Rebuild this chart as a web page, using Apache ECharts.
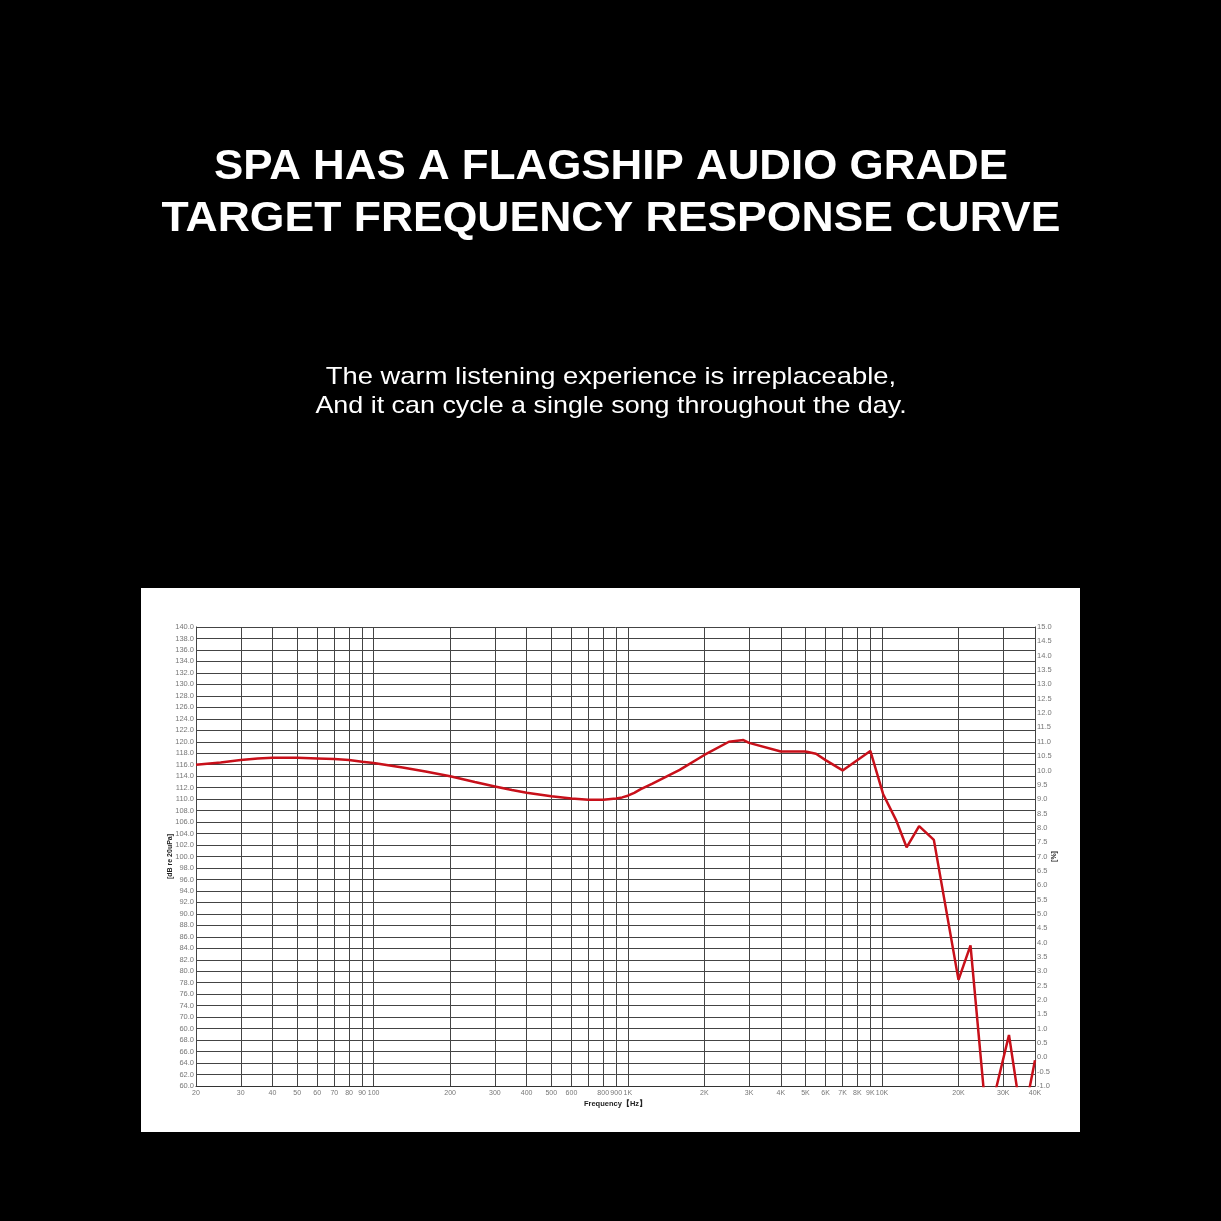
<!DOCTYPE html>
<html>
<head>
<meta charset="utf-8">
<script src="https://cdn.jsdelivr.net/npm/echarts@6/dist/echarts.min.js"></script>
<style>html,body{margin:0;padding:0;background:#000;}#c{width:1221px;height:1221px;}</style>
</head>
<body>
<div id="c"></div>
<script>
const titleLines = ["SPA HAS A FLAGSHIP AUDIO GRADE", "TARGET FREQUENCY RESPONSE CURVE"];
const subtitleLines = ["The warm listening experience is irreplaceable,", "And it can cycle a single song throughout the day."];

const freqs = [20, 25, 30, 35, 40, 50, 60, 70, 80, 90, 100, 130, 160, 200, 250, 300, 350, 400, 500, 600, 700, 800, 900, 950, 1000, 1060, 1120, 1250, 1600, 2000, 2500, 2850, 3000, 4000, 5000, 5500, 6000, 7000, 9000, 10100, 11400, 12500, 14000, 16000, 20000, 22300, 25900, 31600, 35700, 40000];
const spl = [116.0, 116.4, 116.8, 117.1, 117.2, 117.2, 117.1, 117.0, 116.8, 116.5, 116.3, 115.5, 114.8, 114.0, 113.0, 112.2, 111.6, 111.1, 110.5, 110.1, 109.9, 109.9, 110.1, 110.3, 110.6, 111.1, 111.7, 112.7, 115.1, 117.7, 120.0, 120.3, 119.8, 118.3, 118.3, 117.9, 116.8, 115.0, 118.4, 110.9, 106.2, 101.6, 105.3, 102.9, 78.5, 84.5, 53.0, 68.9, 53.3, 64.5];

const gridFreqs = [20, 30, 40, 50, 60, 70, 80, 90, 100, 200, 300, 400, 500, 600, 700, 800, 900, 1000, 2000, 3000, 4000, 5000, 6000, 7000, 8000, 9000, 10000, 20000, 30000, 40000];
const xLabelValues = [20, 30, 40, 50, 60, 70, 80, 90, 100, 200, 300, 400, 500, 600, 800, 900, 1000, 2000, 3000, 4000, 5000, 6000, 7000, 8000, 9000, 10000, 20000, 30000, 40000];
const xLabelTexts = ["20", "30", "40", "50", "60", "70", "80", "90", "100", "200", "300", "400", "500", "600", "800", "900", "1K", "2K", "3K", "4K", "5K", "6K", "7K", "8K", "9K", "10K", "20K", "30K", "40K"];
// left tick labels from bottom (60) to top (140), as printed in the picture
const leftTickLabels = ["60.0", "62.0", "64.0", "66.0", "68.0", "60.0", "70.0", "74.0", "76.0", "78.0", "80.0", "82.0", "84.0", "86.0", "88.0", "90.0", "92.0", "94.0", "96.0", "98.0", "100.0", "102.0", "104.0", "106.0", "108.0", "110.0", "112.0", "114.0", "116.0", "118.0", "120.0", "122.0", "124.0", "126.0", "128.0", "130.0", "132.0", "134.0", "136.0", "138.0", "140.0"];

const chart = echarts.init(document.getElementById('c'), null, {renderer: 'canvas'});
const labelFont = 'Liberation Sans, Arial, sans-serif';
const titleFont = 'bold 42px "Liberation Sans", Arial, sans-serif';
const subFont = '24px "Liberation Sans", Arial, sans-serif';
chart.setOption({
  backgroundColor: '#000',
  animation: false,
  graphic: [
    {type: 'rect', left: 141, top: 588, shape: {width: 939, height: 544}, style: {fill: '#fff'}, z: -10},
    {type: 'text', x: 611, y: 167, scaleX: 1.045, style: {text: titleLines[0], fill: '#fff', font: titleFont, textAlign: 'center', textVerticalAlign: 'middle'}},
    {type: 'text', x: 611, y: 219, scaleX: 1.06, style: {text: titleLines[1], fill: '#fff', font: titleFont, textAlign: 'center', textVerticalAlign: 'middle'}},
    {type: 'text', x: 611, y: 377, scaleX: 1.14, style: {text: subtitleLines[0], fill: '#fff', font: subFont, textAlign: 'center', textVerticalAlign: 'middle'}},
    {type: 'text', x: 611, y: 406, scaleX: 1.12, style: {text: subtitleLines[1], fill: '#fff', font: subFont, textAlign: 'center', textVerticalAlign: 'middle'}}
  ],
  grid: {left: 196, right: 186, top: 627, bottom: 135, containLabel: false},
  xAxis: {
    type: 'log', logBase: 10, min: 20, max: 40000,
    name: 'Frequency【Hz】', nameLocation: 'middle', nameGap: 14,
    nameTextStyle: {color: '#222', fontSize: 7.5, fontWeight: 'bold', fontFamily: labelFont},
    axisLine: {show: true, onZero: false, lineStyle: {color: '#333', width: 1}},
    axisTick: {show: false},
    splitLine: {show: false},
    axisLabel: {
      customValues: xLabelValues,
      color: '#777', fontSize: 7, fontFamily: labelFont, margin: 4,
      formatter: function (v) { const i = xLabelValues.indexOf(Math.round(v)); return i >= 0 ? xLabelTexts[i] : ''; }
    }
  },
  yAxis: [
    {
      type: 'value', min: 60, max: 140, interval: 2, position: 'left',
      name: '[dB re 20uPa]', nameLocation: 'middle', nameRotate: 90, nameGap: 22, nameMoveOverlap: false,
      nameTextStyle: {color: '#222', fontSize: 7, fontWeight: 'bold', fontFamily: labelFont},
      axisLine: {show: true, onZero: false, lineStyle: {color: '#333', width: 1}},
      axisTick: {show: false},
      splitLine: {show: true, lineStyle: {color: '#444', width: 1}},
      axisLabel: {
        color: '#777', fontSize: 7.5, fontFamily: labelFont, margin: 2,
        formatter: function (v) { return leftTickLabels[Math.round((v - 60) / 2)]; }
      }
    },
    {
      type: 'value', min: -1, max: 15, interval: 0.5, position: 'right',
      name: '[%]', nameLocation: 'middle', nameRotate: 90, nameGap: 16, nameMoveOverlap: false,
      nameTextStyle: {color: '#222', fontSize: 7, fontWeight: 'bold', fontFamily: labelFont},
      axisLine: {show: true, onZero: false, lineStyle: {color: '#333', width: 1}},
      axisTick: {show: false},
      splitLine: {show: false},
      axisLabel: {
        color: '#777', fontSize: 7.5, fontFamily: labelFont, margin: 2,
        formatter: function (v) { return v.toFixed(1); }
      }
    }
  ],
  series: [
    {
      type: 'line', yAxisIndex: 0, clip: true, symbol: 'none', smooth: false,
      data: freqs.map((f, i) => [f, spl[i]]),
      lineStyle: {color: '#c8101a', width: 2.5},
      z: 5,
      markLine: {
        silent: true, symbol: ['none', 'none'], label: {show: false},
        lineStyle: {color: '#444', width: 1, type: 'solid'},
        data: gridFreqs.map(f => ({xAxis: f})),
        z: 1
      }
    }
  ]
});
</script>
</body>
</html>
